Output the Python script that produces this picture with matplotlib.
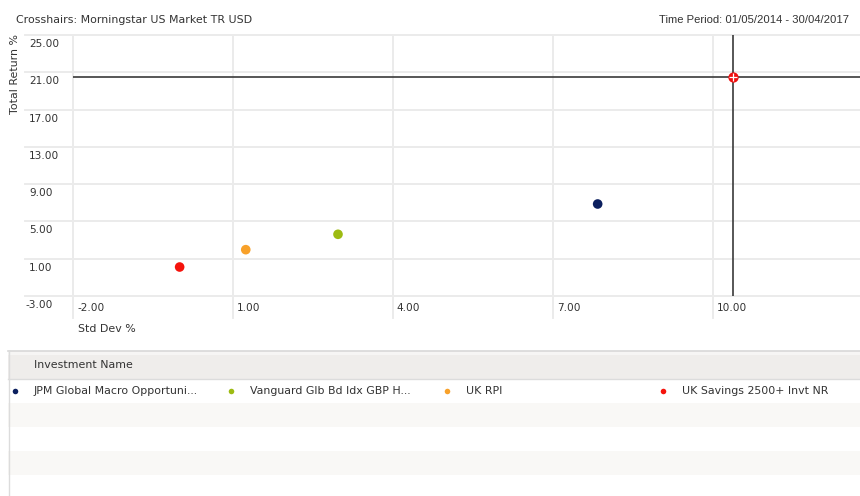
import matplotlib
matplotlib.use("Agg")
import matplotlib.pyplot as plt
from matplotlib.patches import Rectangle
from matplotlib.transforms import ScaledTranslation

# --- data ---
names = ["JPM Global Macro Opportuni...", "Vanguard Glb Bd Idx GBP H...",
         "UK RPI", "UK Savings 2500+ Invt NR"]
colors = ["#0b1f5e", "#9dbb12", "#f8a12a", "#f5130c"]
std_dev = [7.84, 2.97, 1.24, 0.0]
total_return = [6.87, 3.62, 1.97, 0.11]

cross_x = 10.37   # Morningstar US Market TR USD
cross_y = 20.53

x_ticks = [-2, 1, 4, 7, 10]
y_ticks = [-3, 1, 5, 9, 13, 17, 21, 25]

title_left = "Crosshairs: Morningstar US Market TR USD"
title_right = "Time Period: 01/05/2014 - 30/04/2017"

W, H = 860, 496
TXT = "#333333"
GRID = "#ebebeb"
FS = 7.9      # general text
TFS = 7.6     # tick labels

plt.rcParams['font.family'] = ['DejaVu Sans']


def fx(px):
    return px / W


def fy(py):
    return 1 - py / H


fig = plt.figure(figsize=(W / 100, H / 100), dpi=100)

# plot area in pixels: left 73, right 860, top 35, bottom 296
ax = fig.add_axes([fx(73), fy(296), fx(860 - 73), (296 - 35) / H])
ax.set_xlim(-2, 12.76)
ax.set_ylim(-3, 25)
for s in ax.spines.values():
    s.set_visible(False)
ax.set_xticks([])
ax.set_yticks([])

# grid lines, extended over the tick label area like the original
ytr = ax.get_yaxis_transform()
xtr = ax.get_xaxis_transform()
for v in y_ticks:
    ax.plot([-48 / 787, 1], [v, v], color=GRID, lw=1.4, transform=ytr,
            clip_on=False, zorder=1)
for v in x_ticks:
    ax.plot([v, v], [-22 / 261, 1], color=GRID, lw=1.4, transform=xtr,
            clip_on=False, zorder=1)

# tick labels (placed just below / right of their grid line)
for v in y_ticks:
    dx = -48 if v < 0 else -44
    off = ScaledTranslation(dx / 100, -9 / 100, fig.dpi_scale_trans)
    ax.text(0, v, f"{v:.2f}", transform=ytr + off, ha="left", va="center",
            fontsize=TFS, color=TXT)
for v in x_ticks:
    off = ScaledTranslation(4 / 100, -12 / 100, fig.dpi_scale_trans)
    ax.text(v, 0, f"{v:.2f}", transform=xtr + off, ha="left", va="center",
            fontsize=TFS, color=TXT)

# crosshairs
ax.axhline(cross_y, color="#3a3a3a", lw=1.2, zorder=2)
ax.axvline(cross_x, color="#3a3a3a", lw=1.2, zorder=2)
ax.scatter([cross_x], [cross_y], s=55, color="#f01010", zorder=4, linewidths=0)
ax.scatter([cross_x], [cross_y], s=30, marker="+", color="white",
           linewidths=0.9, zorder=5)

# points
ax.scatter(std_dev, total_return, s=48, c=colors, linewidths=0, zorder=3)

# titles and axis labels
fig.text(fx(16), fy(20), title_left, fontsize=FS, color=TXT, va="center")
fig.text(fx(849), fy(20), title_right, fontsize=8.1, color=TXT, va="center",
         ha="right", family="Liberation Sans")
fig.text(fx(15), fy(34), "Total Return %", rotation=90, fontsize=FS,
         color=TXT, ha="center", va="top")
fig.text(fx(78), fy(329), "Std Dev %", fontsize=FS, color=TXT, va="center")

# --- table / legend area below the chart ---
tab = fig.add_axes([0, 0, 1, (H - 350) / H])
tab.set_xlim(0, W)
tab.set_ylim(H, 350)
tab.axis("off")

tab.add_patch(Rectangle((8, 351), W - 8, 28, facecolor="#efedeb",
                        edgecolor="none"))
tab.add_patch(Rectangle((8, 351), W - 8, 4, facecolor="#f6f5f4",
                        edgecolor="none"))
row_tops = [379, 403, 427, 451, 475]
for i, top in enumerate(row_tops):
    fc = "#ffffff" if i % 2 == 0 else "#f9f8f6"
    tab.add_patch(Rectangle((8, top), W - 8, 24, facecolor=fc, edgecolor="none"))
tab.plot([8, W], [351, 351], color="#d8d8d8", lw=1.2)
tab.plot([8, W], [379, 379], color="#dcdcdc", lw=1.0)
tab.plot([8.5, 8.5], [351, H], color="#dcdcdc", lw=1.0)
tab.text(34, 365, "Investment Name", fontsize=FS, color=TXT, va="center")

dot_x = [15, 231, 447, 663]
for name, col, x in zip(names, colors, dot_x):
    tab.scatter([x], [390.5], s=16, color=col, linewidths=0)
    tab.text(x + 19, 390.5, name, fontsize=FS, color=TXT, va="center")

fig.savefig("out.png", dpi=100)
